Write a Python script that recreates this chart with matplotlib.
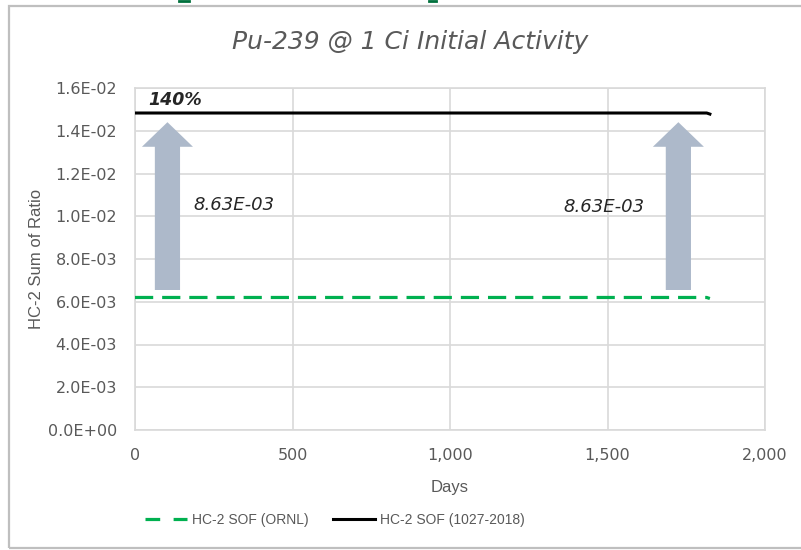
import matplotlib
matplotlib.use("Agg")
import matplotlib.pyplot as plt
from matplotlib.patches import FancyArrow, Rectangle
from matplotlib.lines import Line2D
from matplotlib.ticker import FuncFormatter, MultipleLocator

plt.rcParams['font.family'] = ['DejaVu Sans']

# Sum-of-fractions over the 5-year window
days = [0, 1815, 1825]
sof_ornl = [6.20e-3, 6.20e-3, 6.15e-3]
sof_2018 = [1.483e-2, 1.483e-2, 1.478e-2]

# Increase annotations
arrow_days = [103, 1725]
arrow_base = 6.55e-3
arrow_tip = 1.44e-2
delta_label = "8.63E-03"
delta_label_pos = [(184, 1.053e-2), (1359, 1.043e-2)]
pct_label = "140%"
pct_label_pos = (41, 1.544e-2)

grey_txt = '#595959'
grid_c = '#D9D9D9'

fig = plt.figure(figsize=(8.01, 5.5), dpi=100)
ax = fig.add_axes([135 / 801, 1 - 430 / 550, 630 / 801, 342 / 550])

ax.plot(days, sof_ornl, color='#00B050', lw=2.3, dashes=(5.7, 2.8),
        dash_capstyle='butt', zorder=3)
ax.plot(days, sof_2018, color='black', lw=2.2, zorder=3)

for d in arrow_days:
    ax.add_patch(FancyArrow(d, arrow_base, 0, arrow_tip - arrow_base,
                            width=80, head_width=162, head_length=1.15e-3,
                            length_includes_head=True, color='#ADB9CA',
                            lw=0, zorder=2))

for x, y in delta_label_pos:
    ax.text(x, y, delta_label, fontsize=13, style='italic', color='#262626',
            va='center', ha='left')
ax.text(*pct_label_pos, pct_label, fontsize=12.5, style='italic',
        weight='bold', color='#262626', va='center', ha='left')

ax.set_xlim(0, 2000)
ax.set_ylim(0, 0.016)
ax.xaxis.set_major_locator(MultipleLocator(500))
ax.yaxis.set_major_locator(MultipleLocator(0.002))
ax.xaxis.set_major_formatter(FuncFormatter(lambda v, p: f'{v:,.0f}'))
ax.yaxis.set_major_formatter(FuncFormatter(lambda v, p: f'{v:.1E}'))
ax.tick_params(length=0, labelsize=11.5, colors=grey_txt, pad=13)
ax.grid(True, color=grid_c, lw=1.2)
ax.set_axisbelow(True)
for s in ax.spines.values():
    s.set_color(grid_c)
    s.set_linewidth(1.2)

ax.set_xlabel('Days', fontsize=12, color=grey_txt, labelpad=12,
              family=['Liberation Sans'])
ax.set_ylabel('HC-2 Sum of Ratio', fontsize=12, color=grey_txt,
              family=['Liberation Sans'])
ax.yaxis.set_label_coords(-0.145, 0.5)

fig.text(0.512, 1 - 42 / 550, 'Pu-239 @ 1 Ci Initial Activity', fontsize=18,
         style='italic', color=grey_txt, ha='center', va='center')

handles = [Line2D([], [], color='#00B050', lw=2.3, dashes=(4.6, 4.2)),
           Line2D([], [], color='black', lw=2.2)]
fig.legend(handles, ['HC-2 SOF (ORNL)', 'HC-2 SOF (1027-2018)'],
           loc='center', bbox_to_anchor=(0.418, 1 - 520 / 550), ncol=2,
           frameon=False, prop={'family': 'Liberation Sans', 'size': 10},
           labelcolor=grey_txt, handlelength=3.0, handletextpad=0.36,
           columnspacing=1.8)

# chart frame
fig.patches.append(Rectangle((9 / 801, 1 - 548 / 550), 1.1, 542 / 550,
                             transform=fig.transFigure, fill=False,
                             edgecolor='#BFBFBF', lw=1.6))
# bits of the heading above the frame
for x0, x1 in [(179, 189), (429, 436)]:
    fig.add_artist(Line2D([x0 / 801, x1 / 801], [1 - 1.2 / 550] * 2,
                          color='#00703C', lw=2.0, transform=fig.transFigure))

fig.savefig('out.png', dpi=100)
